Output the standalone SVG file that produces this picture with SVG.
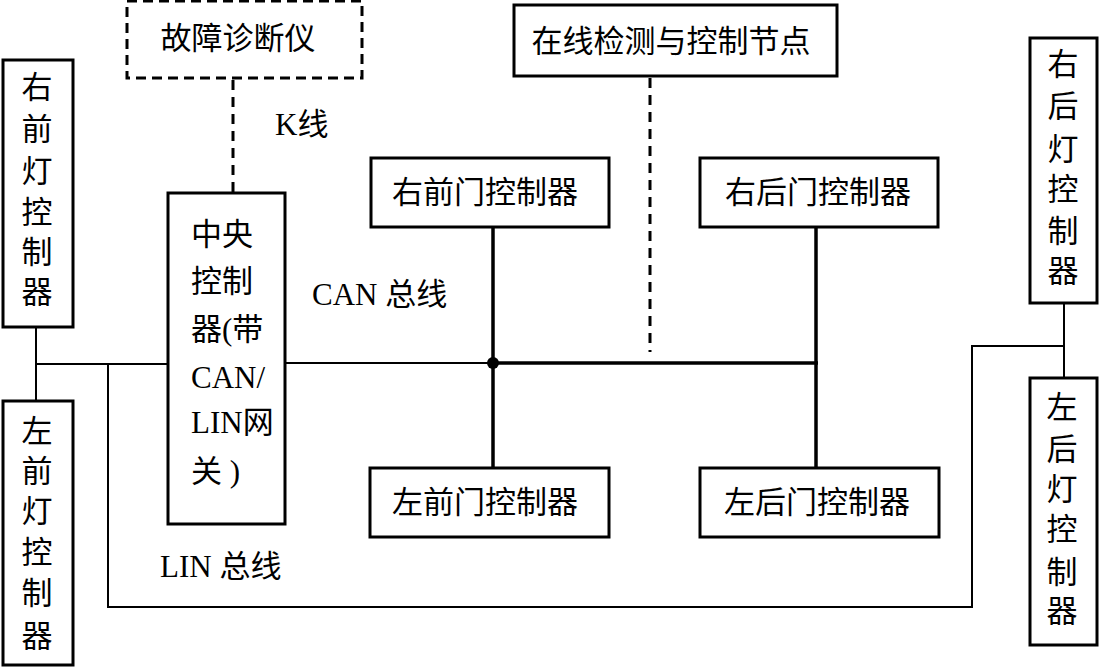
<svg xmlns="http://www.w3.org/2000/svg" width="1101" height="669" viewBox="0 0 1101 669">
<style>
.box{fill:#fff;stroke:#000;stroke-width:3}
.dbox{fill:#fff;stroke:#000;stroke-width:3;stroke-dasharray:10,6}
.t{font-family:"Liberation Serif","Noto Sans CJK SC",serif;font-size:31px;fill:#000}
.c{text-anchor:middle}
.ln{fill:none;stroke:#000;stroke-width:2}
.thick{fill:none;stroke:#000;stroke-width:3.5}
.dash{fill:none;stroke:#000;stroke-width:3;stroke-dasharray:10,7}
</style>
<rect width="1101" height="669" fill="#fff"/>
<g id="connectors">
<line class="dash" x1="233" y1="80" x2="233" y2="193"/>
<line class="dash" x1="650" y1="78" x2="650" y2="352"/>
<line class="ln" x1="36" y1="327" x2="36" y2="401"/>
<line class="ln" x1="36" y1="364" x2="168" y2="364"/>
<polyline class="ln" points="108,364 108,607 972,607 972,346 1064,346"/>
<line class="ln" x1="1064" y1="303" x2="1064" y2="378"/>
<line class="ln" x1="285" y1="363" x2="493" y2="363"/>
<line class="thick" x1="493" y1="363" x2="818" y2="363"/>
<line class="thick" x1="493" y1="227" x2="493" y2="468"/>
<line class="thick" x1="816" y1="227" x2="816" y2="468"/>
<circle cx="493" cy="363" r="6" fill="#000"/>
<text class="t" x="275" y="135">K线</text>
<text class="t" x="312" y="305">CAN 总线</text>
<text class="t" x="160" y="577">LIN 总线</text>
</g>
<g id="diag">
<rect class="dbox" x="127" y="1" width="235" height="77"/>
<text class="t c" x="238" y="49">故障诊断仪</text>
</g>
<g id="monitor">
<rect class="box" x="514" y="5" width="323" height="71"/>
<text class="t c" x="671" y="52">在线检测与控制节点</text>
</g>
<g id="rfdoor">
<rect class="box" x="371" y="158" width="238" height="69"/>
<text class="t c" x="485" y="203">右前门控制器</text>
</g>
<g id="rrdoor">
<rect class="box" x="700" y="158" width="238" height="69"/>
<text class="t c" x="818" y="203">右后门控制器</text>
</g>
<g id="lfdoor">
<rect class="box" x="370" y="468" width="239" height="69"/>
<text class="t c" x="485" y="513">左前门控制器</text>
</g>
<g id="lrdoor">
<rect class="box" x="700" y="468" width="239" height="69"/>
<text class="t c" x="817" y="513">左后门控制器</text>
</g>
<g id="central">
<rect class="box" x="168" y="193" width="117" height="331"/>
<text class="t" x="191" y="245">中央</text>
<text class="t" x="191" y="292">控制</text>
<text class="t" x="191" y="340">器(带</text>
<text class="t" x="191" y="388">CAN/</text>
<text class="t" x="191" y="433">LIN网</text>
<text class="t" x="191" y="482">关 )</text>
</g>
<g id="rflight">
<rect class="box" x="3" y="60" width="70" height="267"/>
<text class="t c" x="37" y="98">右</text>
<text class="t c" x="37" y="140">前</text>
<text class="t c" x="37" y="182">灯</text>
<text class="t c" x="37" y="223">控</text>
<text class="t c" x="37" y="263">制</text>
<text class="t c" x="37" y="303">器</text>
</g>
<g id="lflight">
<rect class="box" x="3" y="401" width="70" height="264"/>
<text class="t c" x="37" y="442">左</text>
<text class="t c" x="37" y="482">前</text>
<text class="t c" x="37" y="522">灯</text>
<text class="t c" x="37" y="563">控</text>
<text class="t c" x="37" y="604">制</text>
<text class="t c" x="37" y="647">器</text>
</g>
<g id="rrlight">
<rect class="box" x="1030" y="38" width="67" height="265"/>
<text class="t c" x="1063" y="75">右</text>
<text class="t c" x="1063" y="117">后</text>
<text class="t c" x="1063" y="160">灯</text>
<text class="t c" x="1063" y="200">控</text>
<text class="t c" x="1063" y="242">制</text>
<text class="t c" x="1063" y="282">器</text>
</g>
<g id="lrlight">
<rect class="box" x="1030" y="378" width="67" height="267"/>
<text class="t c" x="1062" y="418">左</text>
<text class="t c" x="1062" y="460">后</text>
<text class="t c" x="1062" y="500">灯</text>
<text class="t c" x="1062" y="540">控</text>
<text class="t c" x="1062" y="583">制</text>
<text class="t c" x="1062" y="622">器</text>
</g>
</svg>
